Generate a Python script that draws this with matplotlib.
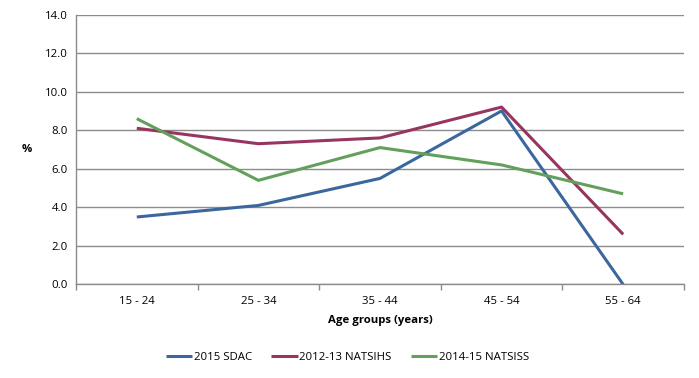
import matplotlib
matplotlib.use("Agg")
import matplotlib.pyplot as plt
import numpy as np

# data
age_groups = ["15 - 24", "25 - 34", "35 - 44", "45 - 54", "55 - 64"]
sdac_2015 = [3.5, 4.1, 5.5, 9.0, 0.0]
natsihs_2012 = [8.1, 7.3, 7.6, 9.2, 2.6]
natsiss_2014 = [8.6, 5.4, 7.1, 6.2, 4.7]
series_names = ["2015 SDAC", "2012-13 NATSIHS", "2014-15 NATSISS"]
series_colors = ["#3B679E", "#973560", "#63A05C"]

plt.rcParams["font.family"] = ["Open Sans", "DejaVu Sans"]
grid_col = "#8C8C8C"
fs = 8.2

fig = plt.figure(figsize=(6.99, 3.78), dpi=100)
ax = fig.add_axes([0.1087, 0.2474, 0.8698, 0.7142])

x = np.arange(len(age_groups))
for vals, name, col in zip([sdac_2015, natsihs_2012, natsiss_2014], series_names, series_colors):
    ax.plot(x, vals, color=col, linewidth=2.2, label=name, solid_capstyle="butt")

ax.set_xlim(-0.5, len(age_groups) - 0.5)
ax.set_ylim(0, 14)
ax.set_yticks(np.arange(0, 14.1, 2))
ax.set_yticklabels([f"{v:.1f}" for v in np.arange(0, 14.1, 2)], fontsize=fs)
ax.set_xticks(x)
ax.set_xticklabels(age_groups, fontsize=fs)
ax.set_xticks(np.arange(-0.5, len(age_groups)), minor=True)
ax.tick_params(axis="x", which="major", length=0, pad=8)
ax.tick_params(axis="x", which="minor", length=4, color=grid_col, width=1)
ax.tick_params(axis="y", length=0, pad=6)
ax.grid(True, axis="y", color=grid_col, linewidth=1)
ax.set_axisbelow(True)
for s in ["top", "right"]:
    ax.spines[s].set_visible(False)
for s in ["left", "bottom"]:
    ax.spines[s].set_color(grid_col)
    ax.spines[s].set_linewidth(1)

ax.set_xlabel("Age groups (years)", fontsize=fs, fontweight="bold", labelpad=6)
ax.set_ylabel("%", fontsize=fs, fontweight="bold", rotation=0, labelpad=13, va="center")

fig.legend(loc="center", bbox_to_anchor=(0.497, 0.053), ncol=3, frameon=False,
           fontsize=fs, handlelength=2.3, columnspacing=1.7, handletextpad=0.15)

fig.savefig("out.png", dpi=100)
plt.close(fig)
